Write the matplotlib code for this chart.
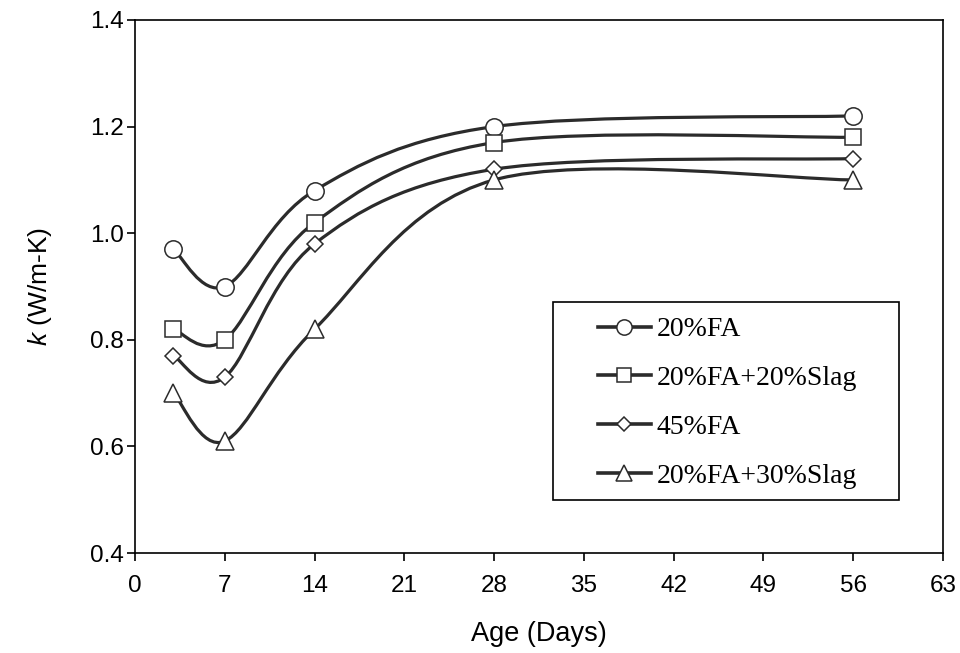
import matplotlib
matplotlib.use("Agg")
import matplotlib.pyplot as plt
from matplotlib.path import Path
from matplotlib.patches import PathPatch, Rectangle
from matplotlib.lines import Line2D
import numpy as np

plt.rcParams["mathtext.fontset"] = "custom"
plt.rcParams["mathtext.it"] = "Liberation Sans:italic"
plt.rcParams["mathtext.rm"] = "Liberation Sans"

days = [3, 7, 14, 28, 56]
fa20 = [0.97, 0.90, 1.08, 1.20, 1.22]
fa20_slag20 = [0.82, 0.80, 1.02, 1.17, 1.18]
fa45 = [0.77, 0.73, 0.98, 1.12, 1.14]
fa20_slag30 = [0.70, 0.61, 0.82, 1.10, 1.10]

labels = ["20%FA", "20%FA+20%Slag", "45%FA", "20%FA+30%Slag"]
series = [fa20, fa20_slag20, fa45, fa20_slag30]
markers = ["o", "s", "D", "^"]
msizes = [12.5, 12, 8.5, 12.5]

xticks = [0, 7, 14, 21, 28, 35, 42, 49, 56, 63]
yticks = [0.4, 0.6, 0.8, 1.0, 1.2, 1.4]

LINE = "#2b2b2b"


def smooth_path(xs, ys):
    pts = np.column_stack([xs, ys]).astype(float)
    n = len(pts)
    verts = [pts[0]]
    codes = [Path.MOVETO]
    for i in range(n - 1):
        p0 = pts[i - 1] if i > 0 else pts[i]
        p1 = pts[i]
        p2 = pts[i + 1]
        p3 = pts[i + 2] if i + 2 < n else pts[i + 1]
        c1 = p1 + (p2 - p0) / 6.0
        c2 = p2 - (p3 - p1) / 6.0
        verts += [c1, c2, p2]
        codes += [Path.CURVE4] * 3
    return Path(verts, codes)


fig = plt.figure(figsize=(9.6, 6.53), dpi=100)
ax = fig.add_axes([0.1406, 0.1531, 0.8417, 0.8163])

handles = []
for ys, lab, m, ms in zip(series, labels, markers, msizes):
    patch = PathPatch(smooth_path(days, ys), facecolor="none", edgecolor=LINE,
                      lw=2.3, zorder=2, capstyle="round", joinstyle="round")
    ax.add_patch(patch)
    ax.plot(days, ys, linestyle="none", marker=m, markersize=ms,
            markerfacecolor="white", markeredgecolor=LINE, markeredgewidth=1.1,
            zorder=3, clip_on=False)
    handles.append(Line2D([], [], color=LINE, lw=2.6, marker=m,
                          markersize=ms * 0.88, markerfacecolor="white",
                          markeredgecolor=LINE, markeredgewidth=1.1))

ax.set_xlim(0, 63)
ax.set_ylim(0.4, 1.4)
ax.set_xticks(xticks)
ax.set_yticks(yticks)
ax.set_xticklabels([str(t) for t in xticks])
ax.set_yticklabels([f"{t:.1f}" for t in yticks])
for lab in ax.get_xticklabels() + ax.get_yticklabels():
    lab.set_fontfamily("Liberation Sans")
    lab.set_fontsize(17.5)
ax.tick_params(axis="x", direction="out", length=6, width=1.2, color="black", pad=10,
               top=False)
ax.tick_params(axis="y", direction="out", length=6, width=1.2, color="black", pad=2,
               right=False)
for sp in ax.spines.values():
    sp.set_linewidth(1.2)
    sp.set_color("black")

ax.set_xlabel("Age (Days)", fontfamily="Liberation Sans", fontsize=19.5, labelpad=17)
ax.set_ylabel("$\\mathit{k}$ (W/m-K)", fontfamily="Liberation Sans", fontsize=19,
              labelpad=26)

# legend frame
ax.add_patch(Rectangle((0.5173, 0.0994), 0.4282, 0.3715, transform=ax.transAxes,
                       facecolor="white", edgecolor="black", lw=1.2, zorder=4))

leg = ax.legend(handles, labels, loc="upper left",
                bbox_to_anchor=(0.573, 0.443),
                prop={"family": "Liberation Serif", "size": 20},
                frameon=False, handlelength=1.9, handletextpad=0.2,
                labelspacing=0.84, borderpad=0, borderaxespad=0)
leg.set_zorder(5)

fig.savefig("out.png", dpi=100)
